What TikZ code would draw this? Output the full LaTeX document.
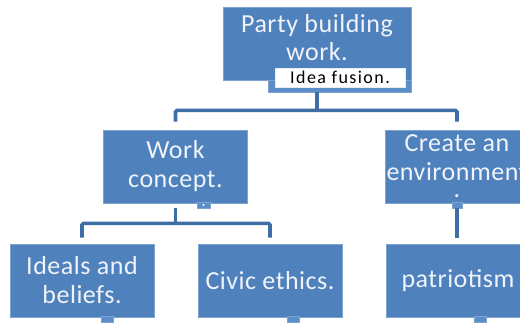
\documentclass[tikz,border=0pt]{standalone}
\usepackage{fontspec}
\setmainfont{Carlito}
\newfontfamily\boxfont[LetterSpace=2]{Carlito}
\newfontfamily\tagfont[LetterSpace=8]{Carlito}
\usetikzlibrary{positioning}
\definecolor{boxblue}{HTML}{4F81BD}
\definecolor{edgeblue}{HTML}{7FA3D0}
\definecolor{linkblue}{HTML}{3F6DA6}
\definecolor{tabblue}{HTML}{5B8DC8}
\definecolor{textwhite}{HTML}{F0F4FA}
\tikzset{
  box/.style={draw=edgeblue, fill=boxblue, line width=.8pt, inner sep=0,
    minimum width=144pt, minimum height=73pt, text=textwhite, align=center,
    font=\boxfont\fontsize{26}{29}\selectfont},
  tab/.style={draw=edgeblue, fill=tabblue, line width=.6pt, inner sep=0,
    minimum width=13pt, minimum height=6pt},
  link/.style={linkblue, line width=3.6pt, rounded corners=1.5pt}
}
\begin{document}
\begin{tikzpicture}[x=1pt, y=-1pt]
\useasboundingbox (0,0) rectangle (520,322);
\clip (0,0) rectangle (520,322);
% top level
\node[box, minimum width=188pt] (party) at (317,43.5) {};
\node[text=textwhite, align=center, font=\boxfont\fontsize{26}{28}\selectfont] (partytext) at (317,38) {Party building\\work.};
\node[tab, minimum width=143pt, minimum height=12pt] (partytab) at (339.5,86) {};
\node[fill=white, draw=white!85!boxblue, inner sep=0, minimum width=130pt, minimum height=19pt,
  font=\tagfont\fontsize{18}{19}\selectfont] (idea) at (340,77.5) {Idea fusion.};
% middle level
\node[box] (work) at (175.5,166.5) {Work\\concept.};
\node[box] (env) at (457,166.5) {Create an\\environment\\[-12pt].};
\node[tab] (worktab) at (203.5,205) {};
\fill[white] (worktab.center) circle (1.2pt);
\node[tab, minimum width=10pt] (envtab) at (457,205) {};
% bottom level
\node[box] (ideals) at (82,280.5) {Ideals and\\beliefs.};
\node[box] (civic) at (270,280.5) {Civic ethics.};
\node[box] (patriot) at (458,280.5) {patriotism};
\foreach \n/\x in {ideals/107, civic/293, patriot/480}
  \node[tab, minimum width=12pt] (\n tab) at (\x,319.5) {};
% connectors
\draw[link] (partytab.south -| party) -- ++(0,18) coordinate (hub1);
\draw[link] ([yshift=8pt]work.north) |- (hub1) -| ([yshift=8pt]env.north);
\draw[link] (worktab.south -| work) -- ++(0,15) coordinate (hub2);
\draw[link] ([yshift=6pt]ideals.north) |- (hub2) -| ([yshift=6pt]civic.north);
\draw[link] (envtab.south) -- ([yshift=6pt]patriot.north -| envtab);
\end{tikzpicture}
\end{document}
